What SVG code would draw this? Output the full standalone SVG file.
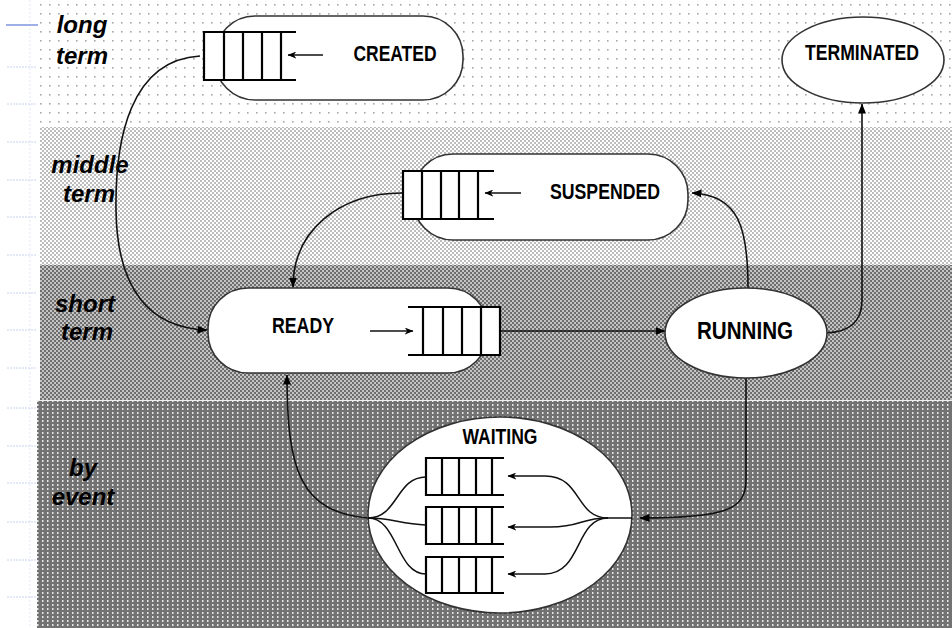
<svg xmlns="http://www.w3.org/2000/svg" width="952" height="628" viewBox="0 0 952 628">
<defs>
<pattern id="p1" width="9" height="9" patternUnits="userSpaceOnUse">
<rect width="9" height="9" fill="#ffffff"/>
<rect x="4" y="4" width="1.6" height="1.6" fill="#a8a8a8"/>
</pattern>
<pattern id="p2" width="4" height="4" patternUnits="userSpaceOnUse">
<rect width="4" height="4" fill="#ffffff"/>
<rect x="0" y="0" width="2" height="2" fill="#bcbcbc"/>
<rect x="2" y="2" width="2" height="2" fill="#bcbcbc"/>
</pattern>
<pattern id="p3" width="4" height="4" patternUnits="userSpaceOnUse">
<rect width="4" height="4" fill="#6e6e6e"/>
<rect x="0" y="0" width="2" height="2" fill="#c4c4c4"/>
<rect x="2" y="2" width="2" height="2" fill="#c4c4c4"/>
</pattern>
<pattern id="p4" width="5" height="4" patternUnits="userSpaceOnUse">
<rect width="5" height="4" fill="#727272"/>
<rect x="2" y="0" width="1.5" height="2" fill="#e6e6e6"/>
</pattern>
<marker id="ah" viewBox="0 0 10 8" refX="9.5" refY="4" markerWidth="10" markerHeight="8" markerUnits="userSpaceOnUse" orient="auto">
<path d="M0,0 L10,4 L0,8 z" fill="#000"/>
</marker>
<marker id="ahs" viewBox="0 0 10 8" refX="9.5" refY="4" markerWidth="9" markerHeight="7" markerUnits="userSpaceOnUse" orient="auto">
<path d="M0,0 L10,4 L0,8 L3,4 z" fill="#000"/>
</marker>
<style>
.node{fill:#fff;stroke:#333;stroke-width:1.6}
.q{fill:none;stroke:#000;stroke-width:2.2}
.qf{fill:#fff}
.lbl{font-family:"Liberation Sans Narrow","Liberation Sans",Arial,sans-serif;font-weight:bold;font-size:22px;fill:#000;text-anchor:middle}
.band{font-family:"Liberation Sans",Arial,sans-serif;font-weight:bold;font-style:italic;font-size:24px;fill:#000;text-anchor:middle}
.con{fill:none;stroke:#111;stroke-width:1.6}
.in{fill:none;stroke:#111;stroke-width:1.5}
.tick{stroke:#c8d2f0;stroke-width:1;stroke-dasharray:2 1}
</style>
</defs>

<g id="background">
<rect x="0" y="0" width="952" height="628" fill="#ffffff"/>
<rect x="40" y="0" width="912" height="127" fill="url(#p1)"/>
<rect x="40" y="127" width="912" height="138" fill="url(#p2)"/>
<rect x="40" y="265" width="912" height="135" fill="url(#p3)"/>
<rect x="37" y="401" width="915" height="227" fill="url(#p4)"/>
<line x1="37" y1="400.5" x2="952" y2="400.5" stroke="#f0f0f0" stroke-width="1"/>
</g>

<g id="margin">
<line x1="30" y1="0" x2="30" y2="628" stroke="#e2e8fa" stroke-width="1" stroke-dasharray="2 2"/>
<line x1="6" y1="25" x2="38" y2="25" stroke="#9fb0e6" stroke-width="2"/>
<line class="tick" x1="7" y1="67" x2="37" y2="67"/>
<line class="tick" x1="7" y1="104" x2="37" y2="104"/>
<line class="tick" x1="7" y1="142" x2="37" y2="142"/>
<line class="tick" x1="7" y1="180" x2="37" y2="180"/>
<line class="tick" x1="7" y1="217" x2="37" y2="217"/>
<line class="tick" x1="7" y1="255" x2="37" y2="255"/>
<line class="tick" x1="7" y1="293" x2="37" y2="293"/>
<line class="tick" x1="7" y1="330" x2="37" y2="330"/>
<line class="tick" x1="7" y1="368" x2="37" y2="368"/>
<line class="tick" x1="7" y1="408" x2="37" y2="408"/>
<line class="tick" x1="7" y1="446" x2="37" y2="446"/>
<line class="tick" x1="7" y1="483" x2="37" y2="483"/>
<line class="tick" x1="7" y1="522" x2="37" y2="522"/>
<line class="tick" x1="7" y1="560" x2="37" y2="560"/>
<line class="tick" x1="7" y1="597" x2="37" y2="597"/>
</g>

<g id="band-labels">
<text class="band" x="82" y="33">long</text>
<text class="band" x="82" y="64">term</text>
<text class="band" x="90" y="173">middle</text>
<text class="band" x="89" y="202">term</text>
<text class="band" x="85" y="312">short</text>
<text class="band" x="87" y="340">term</text>
<text class="band" x="83" y="476">by</text>
<text class="band" x="83" y="505">event</text>
</g>

<g id="connectors">
<path class="con" d="M200 56 C130 60 115 140 116 210 C117 290 150 328 207 330" marker-end="url(#ah)"/>
<path class="con" d="M402 193 C340 193 293 230 293 287" marker-end="url(#ah)"/>
<path class="con" d="M500 331 L665 331" marker-end="url(#ah)"/>
<path class="con" d="M748 288 C748 230 740 195 692 193" marker-end="url(#ah)"/>
<path class="con" d="M826 333 C850 332 862 322 862 300 L862 104" marker-end="url(#ah)"/>
<path class="con" d="M746 378 L746 480 C746 510 725 518 640 518" marker-end="url(#ah)"/>
<path class="con" d="M368 518 C300 512 287 470 287 375" marker-end="url(#ah)"/>
</g>

<g id="created">
<rect class="node" x="215" y="16" width="248" height="84" rx="40" ry="40"/>
<rect class="qf" x="204" y="32" width="92" height="48"/>
<path class="q" d="M296 32 H204 V80 H296 M224 32 V80 M243 32 V80 M262 32 V80 M281 32 V80"/>
<path class="in" d="M323 55 L288 55" marker-end="url(#ahs)"/>
<text class="lbl" x="395" y="61" textLength="83" lengthAdjust="spacingAndGlyphs">CREATED</text>
</g>

<g id="terminated">
<ellipse class="node" cx="863" cy="60" rx="81" ry="43"/>
<text class="lbl" x="862" y="60" textLength="114" lengthAdjust="spacingAndGlyphs">TERMINATED</text>
</g>

<g id="suspended">
<rect class="node" x="413" y="154" width="275" height="86" rx="40" ry="40"/>
<rect class="qf" x="403" y="171" width="91" height="48"/>
<path class="q" d="M494 171 H403 V219 H494 M422 171 V219 M441 171 V219 M459 171 V219 M478 171 V219"/>
<path class="in" d="M521 193 L485 193" marker-end="url(#ahs)"/>
<text class="lbl" x="605" y="199" textLength="110" lengthAdjust="spacingAndGlyphs">SUSPENDED</text>
</g>

<g id="ready">
<rect class="node" x="208" y="288" width="280" height="85" rx="40" ry="40"/>
<rect class="qf" x="408" y="307" width="92" height="48"/>
<path class="q" d="M408 307 H500 V355 H408 M423 307 V355 M443 307 V355 M462 307 V355 M481 307 V355"/>
<path class="in" d="M370 331 L413 331" marker-end="url(#ahs)"/>
<text class="lbl" x="303" y="333" textLength="62" lengthAdjust="spacingAndGlyphs">READY</text>
</g>

<g id="running">
<ellipse class="node" cx="746" cy="333" rx="81" ry="45"/>
<text class="lbl" x="745" y="339" font-size="24" style="font-size:24px" textLength="96" lengthAdjust="spacingAndGlyphs">RUNNING</text>
</g>

<g id="waiting">
<ellipse class="node" cx="500" cy="515" rx="132" ry="98"/>
<text class="lbl" x="500" y="444" textLength="75" lengthAdjust="spacingAndGlyphs">WAITING</text>
<rect class="qf" x="426" y="458" width="78" height="37"/>
<rect class="qf" x="426" y="507" width="78" height="37"/>
<rect class="qf" x="426" y="557" width="78" height="36"/>
<path class="q" d="M504 458 H426 V495 H504 M442 458 V495 M459 458 V495 M476 458 V495 M492 458 V495"/>
<path class="q" d="M504 507 H426 V544 H504 M442 507 V544 M459 507 V544 M476 507 V544 M492 507 V544"/>
<path class="q" d="M504 557 H426 V593 H504 M442 557 V593 M459 557 V593 M476 557 V593 M492 557 V593"/>
<path class="in" d="M632 518 L608 518"/>
<path class="in" d="M608 518 C575 518 582 476 545 476 L508 476" marker-end="url(#ahs)"/>
<path class="in" d="M608 518 C580 518 582 527 550 527 L508 527" marker-end="url(#ahs)"/>
<path class="in" d="M608 518 C575 518 582 574 545 574 L508 574" marker-end="url(#ahs)"/>
<path class="in" d="M368 518 C398 518 396 477 426 477"/>
<path class="in" d="M368 518 C392 518 400 524 426 525"/>
<path class="in" d="M368 518 C398 518 396 574 426 574"/>
</g>
</svg>
